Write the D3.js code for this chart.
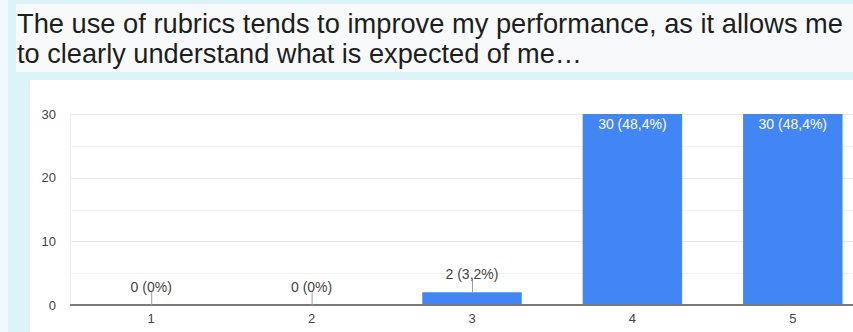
<!DOCTYPE html>
<html>
<head>
<meta charset="utf-8">
<script src="https://cdn.jsdelivr.net/npm/d3@7/dist/d3.min.js"></script>
<style>
  html, body { margin: 0; padding: 0; background: #fff; }
  svg { display: block; font-family: "Liberation Sans", Arial, sans-serif; }
</style>
</head>
<body>
<svg id="chart" width="853" height="332"></svg>
<script>
// Survey answers on a 1–5 scale and how many respondents chose each
const categories = ["1", "2", "3", "4", "5"];
const counts = [0, 0, 2, 30, 30];
const percentLabels = ["0%", "0%", "3,2%", "48,4%", "48,4%"];
const yTicks = [0, 10, 20, 30];
const yGrid = [0, 5, 10, 15, 20, 25, 30];
const titleLines = [
  "The use of rubrics tends to improve my performance, as it allows me",
  "to clearly understand what is expected of me…"
];

const svg = d3.select("#chart");
const W = 853, H = 332;

// slide-like backdrop, title strip and white chart panel
svg.append("rect").attr("width", W).attr("height", H).attr("fill", "#dcf3f8");
svg.append("rect").attr("x", 0).attr("y", 0).attr("width", 8).attr("height", H).attr("fill", "#eefafc");
svg.append("rect").attr("x", 16).attr("y", 4).attr("width", W - 16).attr("height", 68).attr("fill", "#f7f9fa");
svg.append("rect").attr("x", 30).attr("y", 80).attr("width", W - 30).attr("height", H - 80).attr("fill", "#ffffff");

// title
const titleLens = [826, 565];
titleLines.forEach((t, i) => {
  svg.append("text")
    .attr("x", 17)
    .attr("y", 33 + i * 30)
    .attr("font-size", 27.5)
    .attr("fill", "#1e1e1e")
    .attr("textLength", titleLens[i])
    .attr("lengthAdjust", "spacingAndGlyphs")
    .text(t);
});

// scales
const x = d3.scaleBand().domain(categories).range([71, 873]).paddingInner(0.38).paddingOuter(0.19);
const y = d3.scaleLinear().domain([0, 30]).range([305, 114]);

const plot = svg.append("g");

// gridlines
plot.selectAll("line.grid").data(yGrid.filter(d => d > 0)).join("line")
  .attr("class", "grid")
  .attr("x1", 70).attr("x2", W)
  .attr("y1", d => Math.round(y(d)) + 0.5).attr("y2", d => Math.round(y(d)) + 0.5)
  .attr("stroke", d => d % 10 === 0 ? "#e8e8e8" : "#f1f1f1")
  .attr("stroke-width", 1);

plot.append("line")
  .attr("x1", 70.5).attr("x2", 70.5).attr("y1", y(30)).attr("y2", y(0))
  .attr("stroke", "#ececec");

// y axis labels
const yAxis = d3.axisLeft(y).tickValues(yTicks).tickSize(0).tickPadding(0);
const yg = svg.append("g").attr("transform", "translate(56,0)").call(yAxis);
yg.select(".domain").remove();
yg.selectAll("text").attr("font-size", 13).attr("fill", "#444").attr("font-family", "Liberation Sans, Arial, sans-serif");

// bars
plot.selectAll("rect.bar").data(categories).join("rect")
  .attr("class", "bar")
  .attr("x", (d) => x(d))
  .attr("width", x.bandwidth())
  .attr("y", (d, i) => y(counts[i]))
  .attr("height", (d, i) => y(0) - y(counts[i]))
  .attr("fill", "#4285f4");

// baseline
plot.append("line")
  .attr("x1", 70).attr("x2", W).attr("y1", y(0)).attr("y2", y(0))
  .attr("stroke", "#7a7a7a").attr("stroke-width", 2);

// x axis labels
const xAxis = d3.axisBottom(x).tickSize(0).tickPadding(0);
const xg = svg.append("g").attr("transform", "translate(0,314)").call(xAxis);
xg.select(".domain").remove();
xg.selectAll("text").attr("font-size", 13).attr("fill", "#444").attr("font-family", "Liberation Sans, Arial, sans-serif");

// value labels: inside tall bars, above short ones with a leader line
categories.forEach((c, i) => {
  const cx = x(c) + x.bandwidth() / 2;
  const label = `${counts[i]} (${percentLabels[i]})`;
  const barTop = y(counts[i]);
  if (counts[i] >= 10) {
    svg.append("text")
      .attr("x", cx).attr("y", barTop + 15)
      .attr("text-anchor", "middle").attr("font-size", 14).attr("fill", "#ffffff")
      .text(label);
  } else {
    svg.append("line")
      .attr("x1", cx + 0.5).attr("x2", cx + 0.5)
      .attr("y1", barTop - 14).attr("y2", barTop)
      .attr("stroke", "#9e9e9e").attr("stroke-width", 1);
    svg.append("text")
      .attr("x", cx).attr("y", barTop - 13)
      .attr("text-anchor", "middle").attr("font-size", 14).attr("fill", "#444")
      .text(label);
  }
});
</script>
</body>
</html>
